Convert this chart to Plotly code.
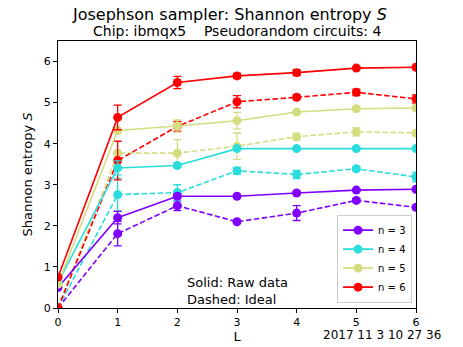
import plotly.graph_objects as go

L = [0, 1, 2, 3, 4, 5, 6]
labels = ["n = 3", "n = 4", "n = 5", "n = 6"]
colors = ["#8000ff", "#2adddd", "#d4dd80", "#ff0000"]

raw = [
    [0.50, 2.20, 2.72, 2.72, 2.80, 2.87, 2.89],
    [0.62, 3.41, 3.47, 3.88, 3.88, 3.88, 3.88],
    [0.58, 4.32, 4.43, 4.56, 4.77, 4.85, 4.87],
    [0.75, 4.64, 5.49, 5.65, 5.73, 5.84, 5.86],
]
raw_err = [
    [0.02, 0.15, 0.05, 0.03, 0.04, 0.03, 0.03],
    [0.02, 0.17, 0.05, 0.03, 0.03, 0.03, 0.03],
    [0.02, 0.04, 0.15, 0.20, 0.04, 0.04, 0.04],
    [0.02, 0.30, 0.15, 0.06, 0.07, 0.03, 0.03],
]
ideal = [
    [0.0, 1.81, 2.49, 2.10, 2.31, 2.62, 2.45],
    [0.0, 2.76, 2.81, 3.34, 3.25, 3.39, 3.19],
    [0.0, 3.77, 3.77, 3.94, 4.17, 4.29, 4.26],
    [0.0, 3.59, 4.42, 5.02, 5.13, 5.25, 5.09],
]
ideal_err = [
    [0.0, 0.30, 0.12, 0.03, 0.18, 0.04, 0.04],
    [0.0, 0.40, 0.19, 0.08, 0.10, 0.05, 0.12],
    [0.0, 0.05, 0.33, 0.32, 0.08, 0.10, 0.06],
    [0.0, 0.47, 0.12, 0.15, 0.05, 0.08, 0.10],
]

fig = go.Figure()
for i in range(4):
    fig.add_trace(go.Scatter(
        x=L, y=ideal[i], mode="lines+markers", showlegend=False,
        line=dict(color=colors[i], width=1.6, dash="5.5px,2.5px"),
        marker=dict(color=colors[i], size=9),
        error_y=dict(type="data", array=ideal_err[i], color=colors[i], thickness=1.3, width=4),
    ))
for i in range(4):
    fig.add_trace(go.Scatter(
        x=L, y=raw[i], mode="lines+markers", name=labels[i],
        line=dict(color=colors[i], width=1.6),
        marker=dict(color=colors[i], size=9),
        error_y=dict(type="data", array=raw_err[i], color=colors[i], thickness=1.3, width=4),
    ))

font = "DejaVu Sans"
fig.update_layout(
    width=463, height=347,
    margin=dict(l=58, r=47, t=41, b=39, pad=0),
    paper_bgcolor="white", plot_bgcolor="white",
    font=dict(family=font, color="black", size=11),
    xaxis=dict(range=[0, 6], tickvals=L, showgrid=False, zeroline=False,
               showline=True, linecolor="black", linewidth=1, mirror=True,
               ticks="outside", ticklen=4, tickcolor="black", automargin=False,
               title=dict(text="L", font=dict(size=13), standoff=3)),
    yaxis=dict(range=[0, 6.5], tickvals=[0, 1, 2, 3, 4, 5, 6], showgrid=False, zeroline=False,
               showline=True, linecolor="black", linewidth=1, mirror=True,
               ticks="outside", ticklen=4, tickcolor="black", automargin=False,
               title=dict(text="Shannon entropy <i>S</i>", font=dict(size=13), standoff=8)),
    legend=dict(x=0.989, y=0.02, xanchor="right", yanchor="bottom",
                bordercolor="#cccccc", borderwidth=1, bgcolor="rgba(255,255,255,0.8)",
                font=dict(size=10), tracegroupgap=0, itemwidth=30),
    showlegend=True,
)
fig.add_annotation(text="Josephson sampler: Shannon entropy <i>S</i>", xref="paper", yref="paper",
                   x=0.48, y=1, yshift=27, showarrow=False, font=dict(size=16), yanchor="middle")
fig.add_annotation(text="Chip: ibmqx5&nbsp;&nbsp;&nbsp;&nbsp;Pseudorandom circuits: 4",
                   xref="paper", yref="paper",
                   x=0.5, y=1, yshift=10, showarrow=False, font=dict(size=14), yanchor="middle")
fig.add_annotation(text="Solid: Raw data<br>Dashed: Ideal", xref="paper", yref="paper",
                   x=(185 - 58) / 358, y=(308 - 291) / 267, xanchor="left", yanchor="middle",
                   align="left", showarrow=False, font=dict(size=13))
fig.add_annotation(text="2017 11 3 10 27 36", xref="paper", yref="paper",
                   x=(443 - 58) / 358, y=0, yshift=-27, xanchor="right", yanchor="middle",
                   showarrow=False, font=dict(size=12))

fig.write_html("out.html", config={"displayModeBar": False},
               post_script="document.body.style.margin='0';")
